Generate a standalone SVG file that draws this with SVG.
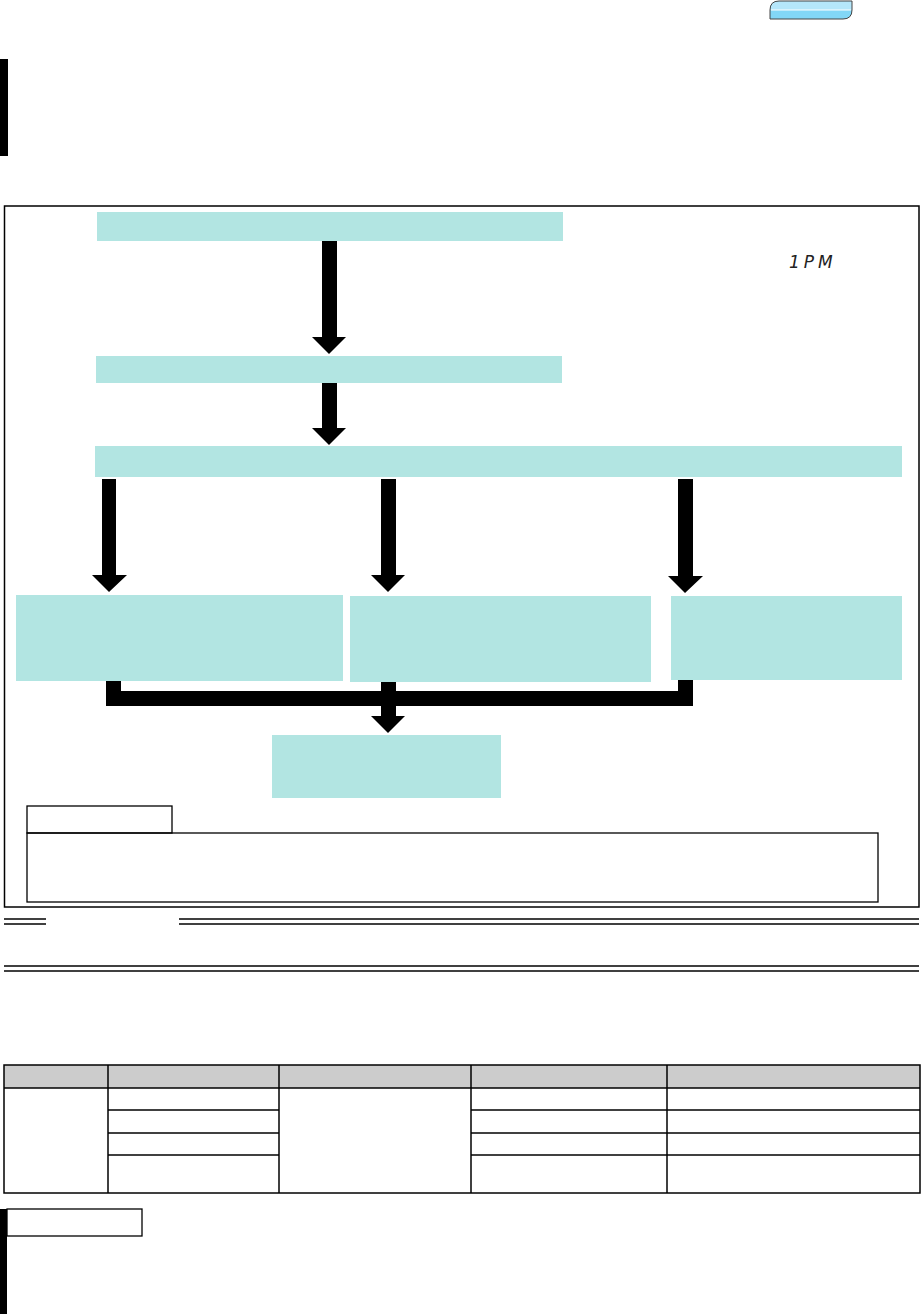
<svg xmlns="http://www.w3.org/2000/svg" width="923" height="1314" viewBox="0 0 923 1314">
<style>
.node{fill:#b2e5e2}
.frame{fill:none;stroke:#000;stroke-width:1.5}
.thin{fill:none;stroke:#000;stroke-width:1.3}
.arrow{fill:#000}
.cell{fill:none;stroke:#000;stroke-width:1.5}
.rule{stroke:#000;stroke-width:1.3}
</style>
<rect width="923" height="1314" fill="#fff"/>
<g id="tab">
<path d="M770,19 L770,10 Q770,1 779,1 L852,1 L852,10 Q852,19 843,19 Z" fill="#82d7f7"/>
<path d="M770,10 Q770,1 779,1 L852,1 L852,10 Z" fill="#b5e7fb"/>
<line x1="771" y1="10" x2="851" y2="10" stroke="#fff" stroke-width="1"/>
<path d="M770,19 L770,10 Q770,1 779,1 L852,1 L852,10 Q852,19 843,19 Z" fill="none" stroke="#444" stroke-width="1"/>
</g>
<rect id="sidebar-top" x="0" y="59" width="8" height="97" fill="#000"/>
<rect id="main-frame" x="4.5" y="206" width="914.5" height="701" class="frame"/>
<text id="display" x="789" y="268" font-family="DejaVu Sans, sans-serif" font-style="italic" font-weight="200" font-size="17" letter-spacing="4" fill="#222">1PM</text>
<g id="n1"><rect class="node" x="97" y="212" width="466" height="29"/></g>
<g id="n2"><rect class="node" x="96" y="356" width="466" height="27"/></g>
<g id="n3"><rect class="node" x="95" y="446" width="807" height="31"/></g>
<g id="n4"><rect class="node" x="16" y="595" width="327" height="86"/></g>
<g id="n5"><rect class="node" x="350" y="596" width="301" height="86"/></g>
<g id="n6"><rect class="node" x="671" y="596" width="231" height="84"/></g>
<g id="n7"><rect class="node" x="272" y="735" width="229" height="63"/></g>
<g id="connectors">
<path class="arrow" d="M322,241 H337 V337 H346 L329,354 L312,337 H322 Z"/>
<path class="arrow" d="M322,383 H337 V428 H346 L329,445 L312,428 H322 Z"/>
<path class="arrow" d="M102,479 H116 V575 H127 L109,592 L92,575 H102 Z"/>
<path class="arrow" d="M381,479 H396 V575 H405 L388,592 L371,575 H381 Z"/>
<path class="arrow" d="M678,479 H693 V576 H703 L685,593 L668,576 H678 Z"/>
<path class="arrow" d="M106,681 H121 V691 H381 V682 H396 V691 H678 V680 H693 V706 H396 V716 H405 L388,733 L371,716 H381 V706 H106 Z"/>
</g>
<g id="note">
<rect x="27" y="806" width="145" height="27" class="thin"/>
<rect x="27" y="833" width="851" height="69" class="thin"/>
</g>
<g id="rules">
<line class="rule" x1="4" y1="919" x2="46" y2="919"/>
<line class="rule" x1="4" y1="924" x2="46" y2="924"/>
<line class="rule" x1="179" y1="919" x2="919" y2="919"/>
<line class="rule" x1="179" y1="924" x2="919" y2="924"/>
<line class="rule" x1="4" y1="966" x2="919" y2="966"/>
<line class="rule" x1="4" y1="971" x2="919" y2="971"/>
</g>
<g id="table">
<rect x="4" y="1065" width="916" height="23" fill="#cccccc"/>
<rect x="4" y="1065" width="916" height="128" class="cell"/>
<line class="cell" x1="4" y1="1088" x2="920" y2="1088"/>
<line class="cell" x1="108" y1="1065" x2="108" y2="1193"/>
<line class="cell" x1="279" y1="1065" x2="279" y2="1193"/>
<line class="cell" x1="471" y1="1065" x2="471" y2="1193"/>
<line class="cell" x1="667" y1="1065" x2="667" y2="1193"/>
<line class="cell" x1="108" y1="1110" x2="279" y2="1110"/>
<line class="cell" x1="108" y1="1133" x2="279" y2="1133"/>
<line class="cell" x1="108" y1="1155" x2="279" y2="1155"/>
<line class="cell" x1="471" y1="1110" x2="920" y2="1110"/>
<line class="cell" x1="471" y1="1133" x2="920" y2="1133"/>
<line class="cell" x1="471" y1="1155" x2="920" y2="1155"/>
</g>
<g id="bottom">
<rect x="0" y="1209" width="7" height="105" fill="#000"/>
<rect x="7" y="1209" width="135" height="27" class="thin"/>
</g>
</svg>
